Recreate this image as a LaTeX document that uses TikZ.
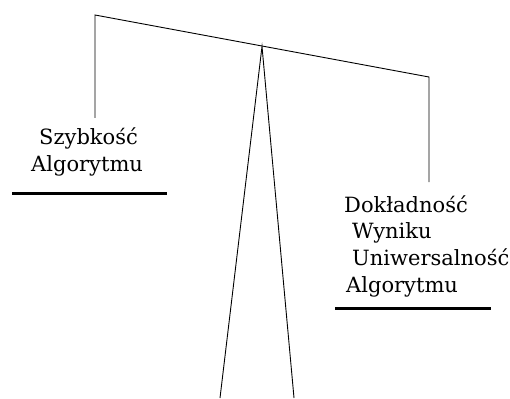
\documentclass[tikz,border=0pt]{standalone}
\usepackage{fontspec}
\setmainfont{DejaVu Serif}
\begin{document}
\begin{tikzpicture}[x=1pt,y=-1pt,
  thin line/.style={line width=0.9pt,black},
  bar/.style={line width=3pt,black},
  lbl/.style={anchor=base west,inner sep=0pt,font=\fontsize{21}{25}\selectfont}]
\useasboundingbox (0,0) rectangle (510,398);
% beam
\coordinate (bl) at (95,15);
\coordinate (br) at (429,77);
\coordinate (pv) at (262,46.5);
\coordinate (ld) at (95,118);
\coordinate (rd) at (429,182);
\coordinate (legl) at (220,398);
\coordinate (legr) at (294,398);
\draw[thin line] (ld) -- (bl) -- (br) -- (rd);
\draw[thin line] (legl) -- (pv) -- (legr);
% bars
\coordinate (lb1) at (12,193);
\coordinate (lb2) at (167,193);
\coordinate (rb1) at (335,308);
\coordinate (rb2) at (491,308);
\draw[bar] (lb1) -- (lb2);
\draw[bar] (rb1) -- (rb2);
% labels
\node[lbl] (s1) at (39,144) {Szybkość};
\node[lbl] (s2) at (31,171) {Algorytmu};
\node[lbl] (d1) at (344,212) {Dokładność};
\node[lbl] (d2) at (352,238) {Wyniku};
\node[lbl] (d3) at (352,265) {Uniwersalność};
\node[lbl] (d4) at (346,292) {Algorytmu};
\end{tikzpicture}
\end{document}
